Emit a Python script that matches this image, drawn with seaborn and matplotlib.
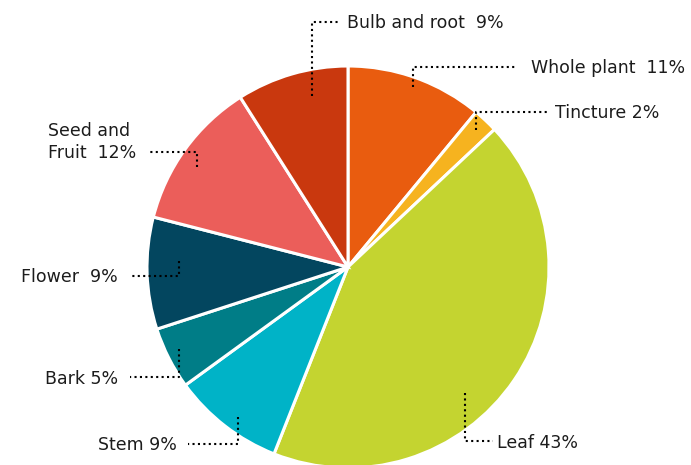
import matplotlib
matplotlib.use("Agg")
import matplotlib.pyplot as plt
import seaborn as sns

# Plant parts used, clockwise from 12 o'clock
parts = ["Whole plant", "Tincture", "Leaf", "Stem", "Bark", "Flower",
         "Seed and Fruit", "Bulb and root"]
shares = [11, 2, 43, 9, 5, 9, 12, 9]
colors = ["#E95C0F", "#F6B31F", "#C4D430", "#00B3C7", "#007D87",
          "#03465F", "#EB5E5A", "#C9380E"]
label_lines = [
    ["Whole plant  11%"],
    ["Tincture 2%"],
    ["Leaf 43%"],
    ["Stem 9%"],
    ["Bark 5%"],
    ["Flower  9%"],
    ["Seed and", "Fruit  12%"],
    ["Bulb and root  9%"],
]

W, H = 691, 465
sns.set_theme(style="white")
plt.rcParams["font.family"] = ["DejaVu Sans"]

fig = plt.figure(figsize=(W / 100, H / 100), dpi=100)
ax = fig.add_axes([0, 0, 1, 1])


def py(y):
    """Convert a top-down pixel row into data y."""
    return H - y


cx, cy, R = 348, 267, 201
ax.pie(shares, colors=colors, startangle=90, counterclock=False,
       center=(cx, py(cy)), radius=R, frame=True,
       wedgeprops=dict(edgecolor="white", linewidth=2.2))
ax.set_xlim(0, W)
ax.set_ylim(0, H)
ax.set_aspect("equal")
ax.axis("off")

# Leader layout: (anchor inside wedge, elbow, line end, text x, text align)
leaders = {
    "Whole plant":    ((413, 87), (413, 67), (517, 67), 531, "left"),
    "Tincture":       ((476, 130), (476, 112), (549, 112), 555, "left"),
    "Leaf":           ((465, 393), (465, 441), (493, 441), 497, "left"),
    "Stem":           ((238, 417), (238, 444), (188, 444), 177, "right"),
    "Bark":           ((179, 349), (179, 377), (130, 377), 118, "right"),
    "Flower":         ((179, 261), (179, 276), (130, 276), 118, "right"),
    "Seed and Fruit": ((197, 167), (197, 152), (147, 152), 48, "left"),
    "Bulb and root":  ((312, 96), (312, 22), (339, 22), 347, "left"),
}

txt_color = "#1c1c1c"
for name, lines in zip(parts, label_lines):
    a, e, t, tx, ha = leaders[name]
    xs = [a[0], e[0], t[0]]
    ys = [py(a[1]), py(e[1]), py(t[1])]
    ax.plot(xs, ys, color="black", linewidth=1.5, dashes=(1, 1.6),
            dash_capstyle="butt", solid_joinstyle="miter")
    # last line sits on the leader; earlier lines stack above it
    base = t[1] + 6.5
    n = len(lines)
    for i, line in enumerate(lines):
        yb = base - (n - 1 - i) * 22
        ax.text(tx, py(yb), line, ha=ha, va="baseline", fontsize=12.5,
                color=txt_color)

fig.savefig("out.png", dpi=100)
